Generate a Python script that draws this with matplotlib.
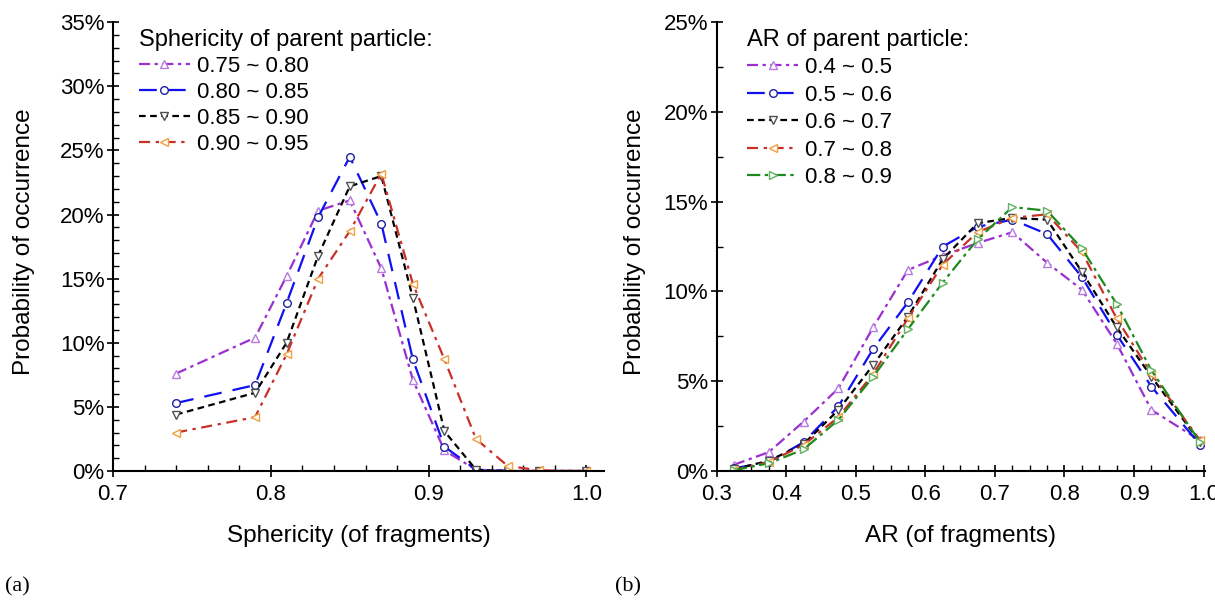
import matplotlib
matplotlib.use("Agg")
import matplotlib.pyplot as plt
from matplotlib.ticker import MultipleLocator, FuncFormatter

plt.rcParams['font.family'] = ['Liberation Sans', 'DejaVu Sans']

# ---------------- data (a) ----------------
sph_x = [0.74, 0.79, 0.81, 0.83, 0.85, 0.87, 0.89, 0.91, 0.93, 0.95, 0.97, 1.00]
sph_labels = ["0.75 ~ 0.80", "0.80 ~ 0.85", "0.85 ~ 0.90", "0.90 ~ 0.95"]
sph_075 = [7.6, 10.4, 15.2, 20.3, 21.1, 15.8, 7.1, 1.6, 0.1, 0.0, 0.0, 0.0]
sph_080 = [5.3, 6.7, 13.1, 19.8, 24.5, 19.3, 8.7, 1.9, 0.1, 0.0, 0.0, 0.0]
sph_085 = [4.4, 6.1, 10.0, 16.8, 22.2, 23.0, 13.5, 3.1, 0.1, 0.0, 0.0, 0.0]
sph_090 = [3.0, 4.2, 9.1, 15.0, 18.7, 23.2, 14.6, 8.7, 2.5, 0.4, 0.05, 0.0]

# ---------------- data (b) ----------------
ar_x = [0.325, 0.375, 0.425, 0.475, 0.525, 0.575, 0.625, 0.675, 0.725, 0.775,
        0.825, 0.875, 0.925, 0.995]
ar_labels = ["0.4 ~ 0.5", "0.5 ~ 0.6", "0.6 ~ 0.7", "0.7 ~ 0.8", "0.8 ~ 0.9"]
ar_04 = [0.35, 1.05, 2.75, 4.6, 8.0, 11.2, 12.0, 12.7, 13.3, 11.6, 10.1, 7.1, 3.4, 1.7]
ar_05 = [0.15, 0.5, 1.6, 3.6, 6.8, 9.4, 12.5, 13.6, 14.0, 13.2, 10.8, 7.6, 4.7, 1.45]
ar_06 = [0.1, 0.57, 1.5, 3.4, 5.9, 8.6, 11.8, 13.8, 14.1, 14.0, 11.1, 8.0, 5.25, 1.6]
ar_07 = [0.05, 0.5, 1.45, 3.0, 5.4, 8.5, 11.5, 13.3, 14.1, 14.3, 12.2, 8.5, 5.4, 1.7]
ar_08 = [0.05, 0.43, 1.2, 2.85, 5.25, 7.9, 10.5, 12.9, 14.7, 14.5, 12.4, 9.3, 5.6, 1.6]

FS_TICK = 16
FS_LAB = 17.5
FS_LEG = 16
FS_TITLE = 17

styles = [
    dict(color='#9B2FD0', mec='#B77BE0', marker='^', ls=(0, (5, 2, 1.5, 2))),
    dict(color='#1010F0', mec='#2020A0', marker='o', ls=(0, (8, 5))),
    dict(color='#000000', mec='#505050', marker='v', ls=(0, (3, 2))),
    dict(color='#C8302A', mec='#F0A040', marker='<', ls=(0, (5, 2.5, 1.5, 2.5))),
    dict(color='#1E8A1E', mec='#60B060', marker='>', ls=(0, (6, 2, 1.5, 2))),
]

fig = plt.figure(figsize=(12.15, 6.0), dpi=100)
axa = fig.add_axes([0.0930, 0.215, 0.404, 0.748])
axb = fig.add_axes([0.5898, 0.215, 0.402, 0.748])

def draw(ax, x, series, labels):
    for ys, lab, st in zip(series, labels, styles):
        ax.plot(x, ys, linestyle=st['ls'], color=st['color'], lw=1.6,
                marker=st['marker'], ms=5.5, mfc='white', mec=st['mec'], mew=1.0,
                label=lab)

draw(axa, sph_x, [sph_075, sph_080, sph_085, sph_090], sph_labels)
draw(axb, ar_x, [ar_04, ar_05, ar_06, ar_07, ar_08], ar_labels)

pct = FuncFormatter(lambda v, p: f"{v:.0f}%")
for ax in (axa, axb):
    for s in ('top', 'right'):
        ax.spines[s].set_visible(False)
    for s in ('left', 'bottom'):
        ax.spines[s].set_linewidth(1.5)
    ax.yaxis.set_major_formatter(pct)
    ax.tick_params(which='major', direction='inout', length=8, width=1.2,
                   labelsize=FS_TICK, pad=2)
    ax.tick_params(axis='x', which='major', pad=5)
    ax.tick_params(which='minor', direction='in', length=4, width=1.0)
    ax.set_ylabel("Probability of occurrence", fontsize=FS_LAB)

axa.set_xlim(0.7, 1.011)
axa.set_ylim(0, 35)
axa.xaxis.set_major_locator(MultipleLocator(0.1))
axa.xaxis.set_minor_locator(MultipleLocator(0.02))
axa.yaxis.set_major_locator(MultipleLocator(5))
axa.yaxis.set_minor_locator(MultipleLocator(1))
axa.xaxis.set_major_formatter(FuncFormatter(lambda v, p: f"{v:.1f}"))
axa.set_xlabel("Sphericity (of fragments)", fontsize=FS_LAB, labelpad=15)
axa.yaxis.set_label_coords(-0.158, 0.51)

axb.set_xlim(0.3, 1.002)
axb.set_ylim(0, 25)
axb.xaxis.set_major_locator(MultipleLocator(0.1))
axb.xaxis.set_minor_locator(MultipleLocator(0.025))
axb.yaxis.set_major_locator(MultipleLocator(5))
axb.yaxis.set_minor_locator(MultipleLocator(2.5))
axb.xaxis.set_major_formatter(FuncFormatter(lambda v, p: f"{v:.1f}"))
axb.set_xlabel("AR (of fragments)", fontsize=FS_LAB, labelpad=15)
axb.yaxis.set_label_coords(-0.145, 0.51)

la = axa.legend(title="Sphericity of parent particle:", loc='upper left',
                bbox_to_anchor=(0.03, 1.01), frameon=False, fontsize=FS_LEG,
                title_fontsize=FS_TITLE, handlelength=2.3, handletextpad=0.3,
                labelspacing=0.23, borderpad=0.0, alignment='left', numpoints=1)
lb = axb.legend(title="AR of parent particle:", loc='upper left',
                bbox_to_anchor=(0.04, 1.01), frameon=False, fontsize=FS_LEG,
                title_fontsize=FS_TITLE, handlelength=2.3, handletextpad=0.3,
                labelspacing=0.29, borderpad=0.0, alignment='left', numpoints=1)

fig.text(0.004, 0.014, "(a)", fontsize=16, family=['Liberation Serif', 'DejaVu Serif'])
fig.text(0.506, 0.014, "(b)", fontsize=16, family=['Liberation Serif', 'DejaVu Serif'])

fig.savefig("out.png", dpi=100)
